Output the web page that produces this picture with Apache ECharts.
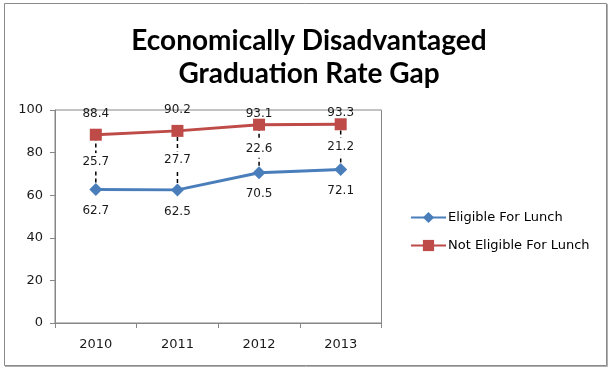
<!DOCTYPE html>
<html>
<head>
<meta charset="utf-8">
<script src="https://cdn.jsdelivr.net/npm/echarts@6/dist/echarts.min.js"></script>
<style>
html,body{margin:0;padding:0;background:#fff;}
#chart{width:613px;height:370px;}
</style>
</head>
<body>
<div id="chart"></div>
<script>
var years = ['2010', '2011', '2012', '2013'];
var eligible = [62.7, 62.5, 70.5, 72.1];
var notEligible = [88.4, 90.2, 93.1, 93.3];
var gap = [25.7, 27.7, 22.6, 21.2];
var yTicks = [0, 20, 40, 60, 80, 100];

var chart = echarts.init(document.getElementById('chart'), null, {renderer: 'canvas'});
var FONT = '"DejaVu Sans", Verdana, sans-serif';
var AXIS_GRAY = '#868686';

var gapData = years.map(function (y, i) {
  return [i, eligible[i], notEligible[i], gap[i]];
});

var option = {
  backgroundColor: '#fff',
  animation: false,
  title: {
    text: 'Economically Disadvantaged\nGraduation Rate Gap',
    left: 304,
    top: 19,
    textAlign: 'center',
    textStyle: {
      fontFamily: 'Lato, "Open Sans", sans-serif',
      fontWeight: 'bold',
      fontSize: 28,
      lineHeight: 33,
      color: '#000'
    }
  },
  graphic: [
    {type: 'rect', shape: {x: 4.5, y: 3.5, width: 602, height: 362}, style: {fill: null, stroke: '#8a8a8a', lineWidth: 1}, z: 100},
    {type: 'polyline', shape: {points: [[607.5, 4], [607.5, 366.5], [5, 366.5]]}, style: {fill: null, stroke: '#b0b0b0', lineWidth: 1}, z: 100}
  ],
  legend: {
    orient: 'vertical',
    left: 405,
    top: 206,
    itemWidth: 35,
    itemHeight: 14,
    itemGap: 15,
    data: ['Eligible For Lunch', 'Not Eligible For Lunch'],
    textStyle: {fontFamily: FONT, fontSize: 13, color: '#000', padding: [0, 0, 0, -3]}
  },
  grid: {
    left: 55,
    right: 231.5,
    top: 110,
    bottom: 47,
    show: true,
    borderColor: AXIS_GRAY,
    borderWidth: 1,
    backgroundColor: 'transparent'
  },
  xAxis: {
    type: 'category',
    data: years,
    boundaryGap: true,
    axisLine: {lineStyle: {color: AXIS_GRAY, width: 1}},
    axisTick: {show: true, length: 5, inside: false, lineStyle: {color: AXIS_GRAY}},
    axisLabel: {fontFamily: FONT, fontSize: 13, color: '#1a1a1a', margin: 15},
    splitLine: {show: false}
  },
  yAxis: {
    type: 'value',
    min: yTicks[0],
    max: yTicks[yTicks.length - 1],
    interval: yTicks[1] - yTicks[0],
    axisLine: {show: true, lineStyle: {color: AXIS_GRAY, width: 1}},
    axisTick: {show: true, length: 5, inside: false, lineStyle: {color: AXIS_GRAY}},
    axisLabel: {fontFamily: FONT, fontSize: 13, color: '#1a1a1a', margin: 12},
    splitLine: {show: false}
  },
  series: [
    {
      name: 'gap',
      type: 'custom',
      z: 1,
      silent: true,
      data: gapData,
      renderItem: function (params, api) {
        var i = api.value(0);
        var lo = api.coord([i, api.value(1)]);
        var hi = api.coord([i, api.value(2)]);
        var midY = (lo[1] + hi[1]) / 2;
        return {
          type: 'group',
          children: [
            {
              type: 'line',
              shape: {x1: lo[0], y1: lo[1], x2: hi[0], y2: hi[1]},
              style: {stroke: '#000', lineWidth: 1.5, lineDash: [4, 3]}
            },
            {
              type: 'text',
              style: {
                text: String(api.value(3)),
                x: lo[0],
                y: midY,
                align: 'center',
                verticalAlign: 'middle',
                fill: '#1a1a1a',
                font: '12px ' + FONT,
                backgroundColor: '#fff',
                padding: [3, 2, 3, 2]
              }
            }
          ]
        };
      }
    },
    {
      name: 'Eligible For Lunch',
      type: 'line',
      z: 3,
      data: eligible,
      symbol: 'diamond',
      symbolSize: 13,
      itemStyle: {color: '#4A7EBB'},
      lineStyle: {color: '#4A7EBB', width: 3},
      label: {show: true, position: 'bottom', distance: 9, fontFamily: FONT, fontSize: 12, color: '#1a1a1a'}
    },
    {
      name: 'Not Eligible For Lunch',
      type: 'line',
      z: 3,
      data: notEligible.map(function (v, i) {
        return {value: v, label: {distance: i >= 2 ? -1 : 9}};
      }),
      symbol: 'rect',
      symbolSize: 12,
      itemStyle: {color: '#BE4B48'},
      lineStyle: {color: '#BE4B48', width: 3},
      label: {show: true, position: 'top', distance: 9, fontFamily: FONT, fontSize: 12, color: '#1a1a1a'}
    }
  ]
};
chart.setOption(option);
</script>
</body>
</html>
